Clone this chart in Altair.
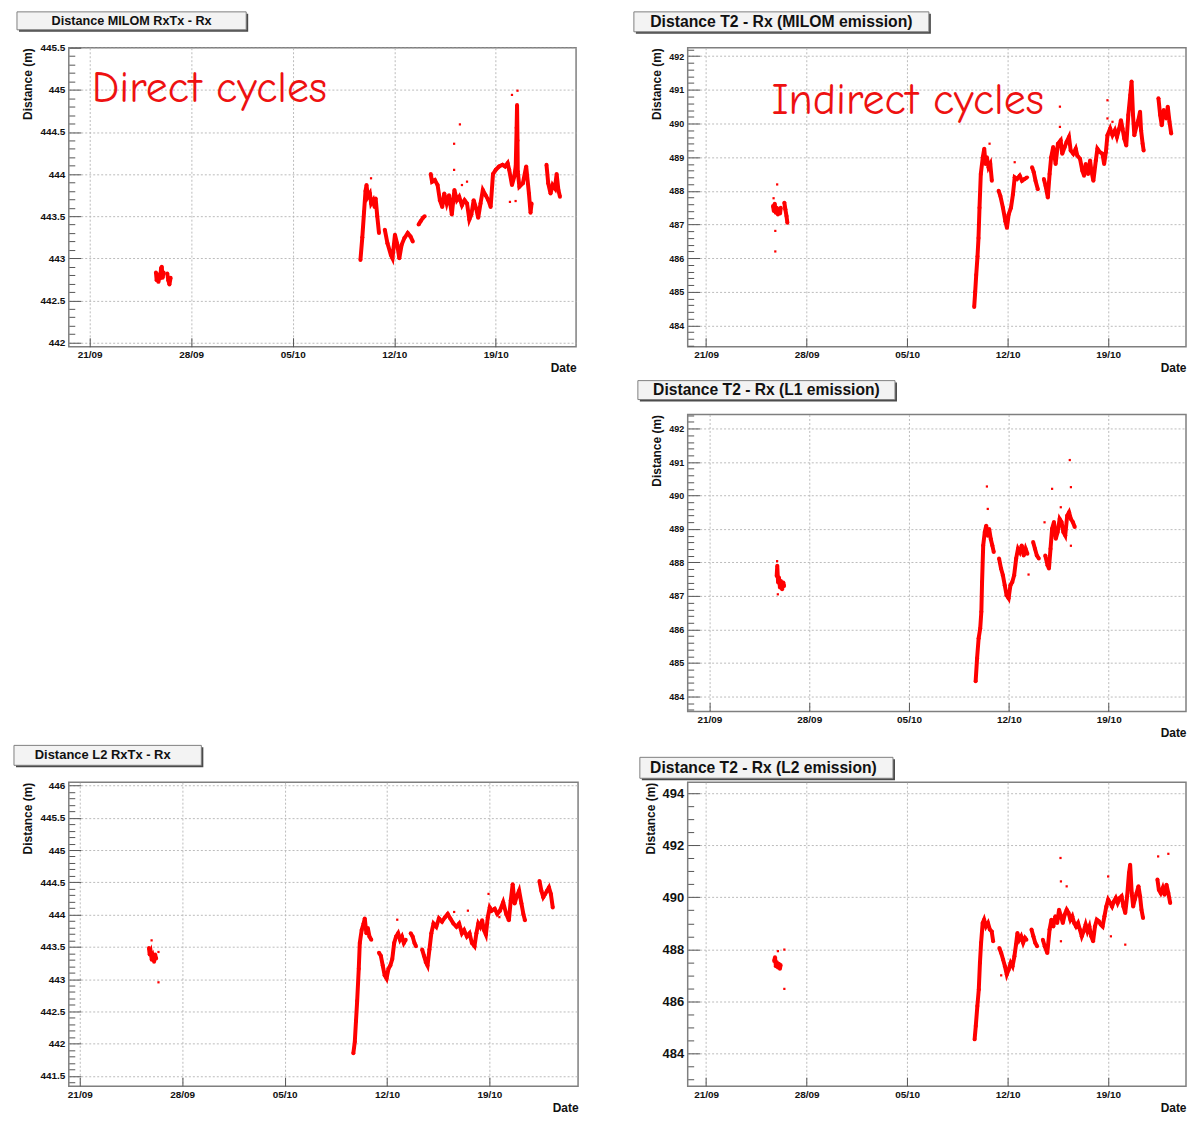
import altair as alt
import pandas as pd

BASE_DATE = pd.Timestamp("2009-09-21")
X_TICK_DAYS = [0, 7, 14, 21, 28]
RED = "#ff0000"
NOTE_RED = "#ee1111"
FONT = "Liberation Sans"

# ---------------- Panel: Distance MILOM RxTx - Rx (direct cycles) -------------
TL_TITLE = "Distance MILOM RxTx - Rx"
TL_NOTE = (0.14, 444.85, "Direct cycles")
TL_XDOMAIN = [-1.44, 33.54]
TL_DOMAIN = [441.95, 445.5]
TL_MAJOR = [442, 442.5, 443, 443.5, 444, 444.5, 445, 445.5]
TL_SEGMENTS = [
    [(4.57, 442.83), (4.62, 442.74), (4.68, 442.81), (4.74, 442.72), (4.8, 442.8), (4.86, 442.76),
     (4.92, 442.88), (4.97, 442.9), (5.03, 442.77), (5.1, 442.83)],
    [(5.35, 442.82), (5.42, 442.74), (5.5, 442.69), (5.58, 442.77)],
    [(18.67, 442.98), (18.8, 443.25), (18.92, 443.55), (19.02, 443.8), (19.09, 443.87), (19.18, 443.73),
     (19.32, 443.77), (19.41, 443.65), (19.55, 443.69), (19.65, 443.61), (19.72, 443.71), (19.83, 443.5),
     (19.95, 443.3)],
    [(20.35, 443.34), (20.53, 443.18), (20.77, 443.04), (20.88, 443.0), (21.05, 443.28), (21.19, 443.18),
     (21.35, 443.0), (21.51, 443.16), (21.7, 443.24), (21.93, 443.3), (22.12, 443.26), (22.28, 443.2)],
    [(22.68, 443.4), (22.82, 443.44), (22.98, 443.48), (23.1, 443.5)],
    [(23.52, 444.0), (23.61, 443.91), (23.8, 443.93), (23.99, 443.87), (24.15, 443.69), (24.31, 443.61),
     (24.45, 443.77), (24.62, 443.65), (24.78, 443.75), (24.97, 443.52), (25.15, 443.81), (25.32, 443.69),
     (25.48, 443.73), (25.67, 443.63), (25.85, 443.69), (26.02, 443.65), (26.18, 443.46), (26.32, 443.52),
     (26.48, 443.69), (26.65, 443.59), (26.79, 443.48), (26.95, 443.65), (27.11, 443.81), (27.3, 443.75),
     (27.49, 443.69), (27.65, 443.61), (27.81, 444.0), (28.0, 444.05), (28.23, 444.09), (28.47, 444.11),
     (28.65, 444.09), (28.82, 444.13), (28.93, 444.05), (29.12, 443.87), (29.28, 443.97), (29.38, 444.1),
     (29.44, 444.55), (29.47, 444.82), (29.5, 444.4), (29.52, 444.03), (29.63, 443.85), (29.87, 443.89),
     (30.1, 444.09), (30.29, 443.77), (30.4, 443.54), (30.47, 443.65)],
    [(31.5, 444.11), (31.62, 443.89), (31.78, 443.77), (31.92, 443.87), (32.08, 443.83), (32.2, 444.0),
     (32.32, 443.81), (32.43, 443.73)],
]
TL_OUTLIERS = [(25.53, 444.59), (25.13, 444.36), (25.13, 444.05), (29.12, 444.94), (29.5, 444.99),
               (29.37, 443.68), (25.67, 443.87), (26.02, 443.91), (28.98, 443.67), (19.4, 443.95)]

# ---------------- Panel: Distance T2 - Rx (MILOM emission) --------------------
TR_TITLE = "Distance T2 - Rx (MILOM emission)"
TR_NOTE = (4.55, 490.29, "Indirect cycles")
TR_XDOMAIN = [-1.28, 33.42]
TR_DOMAIN = [483.37, 492.25]
TR_MAJOR = [484, 485, 486, 487, 488, 489, 490, 491, 492]
TR_SEGMENTS = [
    [(4.66, 487.55), (4.72, 487.4), (4.78, 487.62), (4.85, 487.35), (4.92, 487.5), (5.0, 487.3),
     (5.08, 487.45), (5.15, 487.33), (5.2, 487.5)],
    [(5.45, 487.65), (5.52, 487.45), (5.6, 487.25), (5.66, 487.05)],
    [(18.67, 484.55), (18.74, 485.0), (18.81, 485.5), (18.9, 486.05), (18.97, 486.6), (19.04, 487.5),
     (19.13, 488.5), (19.27, 489.0), (19.37, 489.25), (19.46, 488.8), (19.55, 489.0), (19.67, 488.7),
     (19.79, 488.8), (19.9, 488.3)],
    [(20.37, 488.0), (20.49, 487.85), (20.67, 487.5), (20.84, 487.1), (20.95, 486.9), (21.07, 487.3),
     (21.23, 487.5), (21.37, 487.9), (21.49, 488.4), (21.65, 488.35), (21.84, 488.45), (22.0, 488.3),
     (22.17, 488.35), (22.35, 488.4)],
    [(22.7, 488.7), (22.82, 488.55), (22.94, 488.3), (23.1, 488.05)],
    [(23.52, 488.35), (23.64, 488.15), (23.8, 487.8), (23.92, 488.5), (24.03, 489.0), (24.17, 489.3),
     (24.34, 488.8), (24.5, 489.4), (24.69, 489.5), (24.8, 489.1), (24.97, 489.3), (25.1, 489.45),
     (25.27, 489.6), (25.39, 489.2), (25.57, 489.1), (25.74, 489.25), (25.85, 489.05), (26.04, 488.95),
     (26.2, 488.6), (26.32, 488.45), (26.44, 488.8), (26.6, 488.5), (26.74, 488.9), (26.83, 488.6),
     (26.97, 488.3), (27.14, 488.9), (27.25, 489.25), (27.42, 489.15), (27.6, 489.1), (27.72, 488.8),
     (27.84, 489.15), (27.95, 489.65), (28.14, 489.85), (28.3, 489.65), (28.47, 489.8), (28.61, 489.6),
     (28.77, 489.85), (28.89, 490.1), (29.0, 489.85), (29.12, 489.55), (29.26, 489.35), (29.4, 490.25),
     (29.54, 490.85), (29.63, 491.25), (29.73, 490.25), (29.82, 489.65), (29.96, 489.9), (30.1, 490.1),
     (30.22, 490.35), (30.29, 489.8), (30.4, 489.4), (30.47, 489.2)],
    [(31.5, 490.75), (31.62, 490.25), (31.73, 489.95), (31.87, 490.4), (32.04, 490.15), (32.15, 490.5),
     (32.27, 490.05), (32.39, 489.7)],
]
TR_OUTLIERS = [(4.95, 488.19), (4.82, 486.81), (4.82, 486.2), (4.7, 487.78), (24.64, 490.5), (24.64, 489.9),
               (19.74, 489.4), (21.49, 488.85), (27.95, 490.69), (27.95, 490.15), (28.3, 490.05)]

# ---------------- Panel: Distance T2 - Rx (L1 emission) -----------------------
MR_TITLE = "Distance T2 - Rx (L1 emission)"
MR_XDOMAIN = [-1.52, 33.42]
MR_DOMAIN = [483.55, 492.42]
MR_MAJOR = [484, 485, 486, 487, 488, 489, 490, 491, 492]
MR_SEGMENTS = [
    [(4.72, 487.6), (4.76, 487.9), (4.82, 487.4), (4.88, 487.55), (4.95, 487.25), (5.02, 487.45),
     (5.1, 487.2), (5.18, 487.4), (5.24, 487.3)],
    [(18.67, 484.45), (18.77, 485.14), (18.88, 485.74), (18.99, 486.03), (19.07, 486.53), (19.12, 487.42),
     (19.2, 488.51), (19.31, 488.91), (19.41, 489.1), (19.52, 488.8), (19.62, 489.0), (19.73, 488.7),
     (19.84, 488.51), (19.94, 488.31)],
    [(20.31, 488.12), (20.45, 487.82), (20.58, 487.62), (20.71, 487.32), (20.84, 487.02), (20.98, 486.93),
     (21.11, 487.32), (21.24, 487.42), (21.37, 487.62), (21.51, 488.12), (21.64, 488.41), (21.77, 488.31),
     (21.9, 488.51), (22.04, 488.21), (22.17, 488.41), (22.3, 488.26)],
    [(22.7, 488.61), (22.83, 488.41), (22.96, 488.21), (23.1, 488.12)],
    [(23.55, 488.21), (23.71, 487.92), (23.81, 487.82), (23.92, 488.41), (24.03, 489.01), (24.16, 489.21),
     (24.29, 488.71), (24.42, 488.91), (24.56, 489.3), (24.69, 489.21), (24.82, 488.91), (24.95, 488.81),
     (25.09, 489.4), (25.22, 489.5), (25.35, 489.3), (25.48, 489.21), (25.62, 489.06)],
]
MR_OUTLIERS = [(4.75, 488.04), (4.8, 487.05), (19.46, 490.27), (19.52, 489.6), (24.03, 490.2), (25.27, 491.06),
               (25.35, 490.25), (22.38, 487.64), (25.35, 488.5), (24.64, 489.65), (23.5, 489.2)]

# ---------------- Panel: Distance L2 RxTx - Rx --------------------------------
BL_TITLE = "Distance L2 RxTx - Rx"
BL_XDOMAIN = [-0.75, 34.06]
BL_DOMAIN = [441.34, 446.05]
BL_MAJOR = [441.5, 442, 442.5, 443, 443.5, 444, 444.5, 445, 445.5, 446]
BL_SEGMENTS = [
    [(4.73, 443.48), (4.78, 443.38), (4.85, 443.42), (4.92, 443.3), (5.0, 443.35), (5.08, 443.27),
     (5.15, 443.38), (5.22, 443.32)],
    [(18.7, 441.85), (18.8, 442.03), (18.88, 442.35), (18.96, 442.66), (19.07, 443.16), (19.14, 443.56),
     (19.27, 443.76), (19.4, 443.86), (19.48, 443.94), (19.59, 443.71), (19.69, 443.79), (19.8, 443.66),
     (19.93, 443.61)],
    [(20.45, 443.41), (20.58, 443.36), (20.71, 443.21), (20.84, 443.06), (20.97, 443.01), (21.1, 443.16),
     (21.23, 443.21), (21.36, 443.31), (21.49, 443.56), (21.62, 443.66), (21.76, 443.71), (21.89, 443.61),
     (22.02, 443.66), (22.15, 443.56), (22.28, 443.61)],
    [(22.62, 443.71), (22.75, 443.66), (22.88, 443.56), (22.98, 443.51)],
    [(23.4, 443.46), (23.53, 443.36), (23.66, 443.26), (23.77, 443.21), (23.9, 443.46), (24.03, 443.71),
     (24.18, 443.86), (24.37, 443.81), (24.55, 443.94), (24.76, 443.89), (24.97, 443.96), (25.15, 444.01),
     (25.33, 443.94), (25.54, 443.86), (25.75, 443.81), (25.93, 443.86), (26.12, 443.71), (26.27, 443.76),
     (26.46, 443.66), (26.64, 443.71), (26.8, 443.56), (26.98, 443.51), (27.11, 443.71), (27.24, 443.86),
     (27.37, 443.81), (27.5, 443.91), (27.63, 443.76), (27.76, 443.69), (27.89, 443.96), (28.02, 444.11),
     (28.15, 444.06), (28.36, 444.09), (28.54, 444.01), (28.72, 444.06), (28.94, 444.19), (29.15, 444.01),
     (29.33, 443.91), (29.46, 444.22), (29.59, 444.47), (29.72, 444.17), (29.85, 444.27), (30.03, 444.37),
     (30.19, 444.17), (30.32, 444.01), (30.43, 443.91)],
    [(31.42, 444.52), (31.55, 444.37), (31.68, 444.27), (31.81, 444.32), (31.94, 444.37), (32.07, 444.42),
     (32.2, 444.32), (32.33, 444.11)],
]
BL_OUTLIERS = [(4.91, 443.6), (5.38, 442.95), (5.38, 443.42), (27.94, 444.32), (26.53, 444.06),
               (21.7, 443.92), (25.59, 444.04), (28.68, 443.96)]

# ---------------- Panel: Distance T2 - Rx (L2 emission) -----------------------
BR_TITLE = "Distance T2 - Rx (L2 emission)"
BR_XDOMAIN = [-1.28, 33.42]
BR_DOMAIN = [482.74, 494.42]
BR_MAJOR = [484, 486, 488, 490, 492, 494]
BR_SEGMENTS = [
    [(4.74, 487.55), (4.8, 487.7), (4.86, 487.35), (4.93, 487.5), (5.0, 487.3), (5.07, 487.45),
     (5.14, 487.25), (5.19, 487.4)],
    [(18.7, 484.54), (18.78, 485.05), (18.89, 485.82), (18.99, 486.46), (19.07, 487.48), (19.15, 488.25),
     (19.26, 489.01), (19.36, 489.14), (19.49, 488.88), (19.63, 489.01), (19.76, 488.76), (19.89, 488.69),
     (19.99, 488.31)],
    [(20.42, 488.05), (20.55, 487.86), (20.68, 487.61), (20.81, 487.35), (20.94, 487.03), (21.07, 487.22),
     (21.21, 487.48), (21.34, 487.35), (21.47, 487.73), (21.58, 488.18), (21.68, 488.63), (21.81, 488.37),
     (21.94, 488.5), (22.08, 488.25), (22.21, 488.44), (22.31, 488.37)],
    [(22.66, 488.76), (22.79, 488.5), (22.92, 488.25), (23.05, 488.12)],
    [(23.45, 488.37), (23.58, 488.12), (23.76, 487.86), (23.92, 488.76), (24.05, 489.14), (24.18, 488.88),
     (24.32, 489.27), (24.45, 489.01), (24.58, 489.52), (24.71, 489.27), (24.84, 489.01), (24.97, 489.33),
     (25.11, 489.52), (25.24, 489.4), (25.37, 489.14), (25.5, 489.27), (25.63, 489.01), (25.76, 488.88),
     (25.9, 489.01), (26.03, 488.76), (26.16, 488.5), (26.29, 488.69), (26.43, 488.95), (26.56, 488.69),
     (26.69, 488.88), (26.82, 488.5), (26.95, 488.31), (27.08, 488.88), (27.21, 489.14), (27.35, 489.08),
     (27.48, 488.95), (27.61, 488.88), (27.74, 489.27), (27.87, 489.65), (28.0, 489.91), (28.14, 489.78),
     (28.27, 489.65), (28.4, 489.84), (28.53, 489.97), (28.66, 489.78), (28.8, 489.97), (28.93, 490.04),
     (29.06, 489.65), (29.19, 489.4), (29.32, 490.04), (29.45, 490.93), (29.53, 491.25), (29.64, 490.16),
     (29.74, 489.65), (29.85, 489.91), (29.98, 490.16), (30.11, 490.42), (30.22, 490.04), (30.32, 489.52),
     (30.43, 489.2)],
    [(31.43, 490.68), (31.53, 490.29), (31.66, 490.16), (31.8, 490.36), (31.93, 490.1), (32.06, 490.48),
     (32.19, 490.16), (32.32, 489.78)],
]
BR_OUTLIERS = [(5.45, 486.48), (5.45, 487.99), (5.0, 487.93), (24.68, 491.51), (24.71, 490.61), (25.11, 490.42),
               (31.48, 491.57), (32.19, 491.67), (28.0, 490.8), (29.19, 488.18), (28.19, 488.5), (20.55, 487.0),
               (24.71, 488.31)]


def to_time(d):
    return (BASE_DATE + pd.Timedelta(days=d)).strftime("%Y-%m-%dT%H:%M:%S")


def dt_obj(d):
    t = BASE_DATE + pd.Timedelta(days=d)
    return alt.DateTime(year=int(t.year), month=int(t.month), date=int(t.day),
                        hours=int(t.hour), minutes=int(t.minute))


def minor_values(domain, step, majors):
    vals = []
    k = int(round(domain[0] / step)) - 1
    while k * step <= domain[1] + 1e-9:
        v = round(k * step, 4)
        if domain[0] <= v <= domain[1] and all(abs(v - m) > 1e-6 for m in majors):
            vals.append(v)
        k += 1
    return vals


def panel(segments, outliers, xdomain, domain, majors, minor_step, width, height, title,
          box, text_xy, title_size, ylab_size, note=None):
    rows = []
    for i, seg in enumerate(segments):
        for d, v in seg:
            rows.append({"t": to_time(d), "v": v, "seg": i})
    df = pd.DataFrame(rows)
    odf = pd.DataFrame({"t": [to_time(d) for d, _ in outliers], "v": [v for _, v in outliers]})

    xscale = alt.Scale(domain=[dt_obj(xdomain[0]), dt_obj(xdomain[1])])
    yscale = alt.Scale(domain=domain, zero=False, nice=False)
    xticks = [dt_obj(d) for d in X_TICK_DAYS]
    minors = minor_values(domain, minor_step, majors)

    base = alt.Chart(df)
    main = base.mark_line(color=RED, strokeWidth=4).encode(
        x=alt.X("t:T", scale=xscale,
                axis=alt.Axis(values=xticks, format="%d/%m", title="Date", orient="bottom",
                              ticks=False, tickSize=0, domain=False, grid=True, labelFontSize=10,
                              labelPadding=3, labelFlush=False, titleAnchor="end", titleFontSize=12,
                              titlePadding=3)),
        y=alt.Y("v:Q", scale=yscale,
                axis=alt.Axis(values=majors, format="~g", title="Distance (m)", orient="left",
                              ticks=False, tickSize=0, domain=False, grid=True, labelFontSize=ylab_size,
                              labelPadding=4, titleAnchor="end", titleFontSize=12, titlePadding=5)),
        detail="seg:N",
    )
    pts = base.mark_circle(color=RED, size=16, opacity=1).encode(
        x=alt.X("t:T", scale=xscale, axis=None),
        y=alt.Y("v:Q", scale=yscale, axis=None),
    )
    outs = alt.Chart(odf).mark_square(color=RED, size=5, opacity=1).encode(
        x=alt.X("t:T", scale=xscale, axis=None),
        y=alt.Y("v:Q", scale=yscale, axis=None),
    )
    tick_major = base.mark_point(opacity=0).encode(
        x=alt.X("t:T", scale=xscale,
                axis=alt.Axis(values=xticks, orient="bottom", labels=False, domain=False, grid=False,
                              ticks=True, tickSize=9, offset=-9, title=None, tickColor="#555")),
        y=alt.Y("v:Q", scale=yscale,
                axis=alt.Axis(values=majors, orient="left", labels=False, domain=False, grid=False,
                              ticks=True, tickSize=12, offset=-12, title=None, tickColor="#555")),
    )
    tick_minor = base.mark_point(opacity=0).encode(
        x=alt.X("t:T", scale=xscale, axis=None),
        y=alt.Y("v:Q", scale=yscale,
                axis=alt.Axis(values=minors, orient="left", labels=False, domain=False, grid=False,
                              ticks=True, tickSize=6, offset=-6, title=None, tickColor="#555")),
    )
    one = pd.DataFrame({"label": [title]})
    bx0, bx1, by0, by1 = box
    shadow = alt.Chart(one).mark_rect(color="#4a4a4a").encode(
        x=alt.value(bx0 + 2), x2=alt.value(bx1 + 2), y=alt.value(by0 + 2), y2=alt.value(by1 + 2))
    rect = alt.Chart(one).mark_rect(fill="#f3f3f3", stroke="#808080", strokeWidth=1).encode(
        x=alt.value(bx0), x2=alt.value(bx1), y=alt.value(by0), y2=alt.value(by1))
    text = alt.Chart(one).mark_text(font=FONT, fontWeight="bold", fontSize=title_size, align="center",
                                    baseline="middle", color="#111").encode(
        text="label:N", x=alt.value(text_xy[0]), y=alt.value(text_xy[1]))
    layers = [main, pts, outs, tick_major, tick_minor, shadow, rect, text]
    if note is not None:
        ndf = pd.DataFrame({"t": [to_time(note[0])], "v": [note[1]], "label": [note[2]]})
        layers.append(alt.Chart(ndf).mark_text(
            font="Comic Sans MS, Comic Neue, Noto Sans, sans-serif", fontSize=44, align="left",
            baseline="alphabetic", color=NOTE_RED).encode(
            x=alt.X("t:T", scale=xscale, axis=None),
            y=alt.Y("v:Q", scale=yscale, axis=None),
            text="label:N"))
    return alt.layer(*layers).resolve_axis(x="independent", y="independent").properties(
        width=width, height=height)


tl = panel(TL_SEGMENTS, TL_OUTLIERS, TL_XDOMAIN, TL_DOMAIN, TL_MAJOR, 0.1, 509, 300, TL_TITLE,
           (-52, 178, -36, -18), (63, -27), 12.7, 10, TL_NOTE)
tr = panel(TR_SEGMENTS, TR_OUTLIERS, TR_XDOMAIN, TR_DOMAIN, TR_MAJOR, 0.2, 500, 300, TR_TITLE,
           (-54, 242, -36, -16), (94, -26), 15.8, 9, TR_NOTE)
mr = panel(MR_SEGMENTS, MR_OUTLIERS, MR_XDOMAIN, MR_DOMAIN, MR_MAJOR, 0.2, 500, 298, MR_TITLE,
           (-50, 208, -34, -15), (79, -24.5), 15.7, 9)
bl = panel(BL_SEGMENTS, BL_OUTLIERS, BL_XDOMAIN, BL_DOMAIN, BL_MAJOR, 0.1, 511, 305, BL_TITLE,
           (-55, 133, -37, -17), (34, -27), 13, 10)
br = panel(BR_SEGMENTS, BR_OUTLIERS, BR_XDOMAIN, BR_DOMAIN, BR_MAJOR, 0.5, 500, 305, BR_TITLE,
           (-48, 206, -25, -4), (76, -14.5), 15.7, 13)

blank = alt.Chart(pd.DataFrame({"a": [0]})).mark_point(opacity=0).encode(
    x=alt.X("a:Q", axis=None), y=alt.Y("a:Q", axis=None)
).properties(width=509, height=298, view=alt.ViewBackground(strokeOpacity=0))

row1 = alt.hconcat(tl, tr, spacing=55)
row2 = alt.hconcat(blank, mr, spacing=60)
row3 = alt.hconcat(bl, br, spacing=59)

chart = alt.vconcat(row1, row2, row3, spacing=4).properties(
    padding={"left": 4, "top": 0, "right": 0, "bottom": 0}
).configure_view(
    stroke="#7f7f7f", strokeWidth=1.5
).configure_axis(
    labelFont=FONT, titleFont=FONT, labelFontWeight="bold", titleFontWeight="bold",
    labelColor="#111", titleColor="#111", gridColor="#b4b4b4", gridDash=[2, 2], gridWidth=0.9
)

chart.save("out.html", embed_options={"renderer": "svg", "actions": False})
